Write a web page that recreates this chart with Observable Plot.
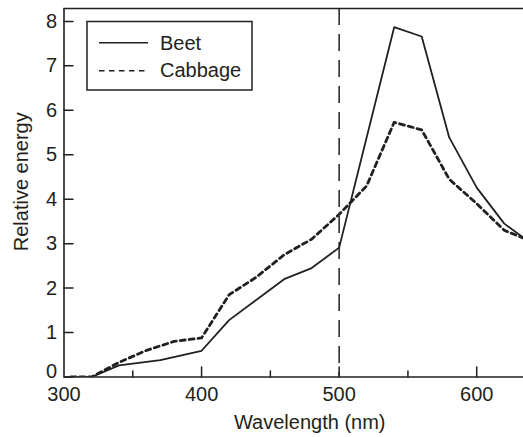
<!DOCTYPE html>
<html>
<head>
<meta charset="utf-8">
<script src="https://cdn.jsdelivr.net/npm/d3@7"></script>
<script src="https://cdn.jsdelivr.net/npm/@observablehq/plot@0.6"></script>
<style>
  body { margin: 0; background: #fff; }
  svg { display: block; }
</style>
</head>
<body>
<div id="chart"></div>
<script>
// Spectral energy of light reflected by two vegetables
const beetWavelength = [305, 320, 340, 370, 400, 420, 460, 480, 500, 540, 560, 580, 600, 620, 640];
const beetEnergy     = [0, 0, 0.26, 0.38, 0.59, 1.28, 2.2, 2.45, 2.91, 7.87, 7.66, 5.39, 4.26, 3.45, 3.0];

const cabbageWavelength = [305, 320, 340, 360, 380, 400, 420, 440, 460, 480, 500, 520, 540, 560, 580, 600, 620, 640];
const cabbageEnergy     = [0, 0, 0.33, 0.6, 0.8, 0.88, 1.85, 2.25, 2.75, 3.1, 3.66, 4.3, 5.73, 5.56, 4.45, 3.9, 3.3, 3.05];

const seriesNames = ["Beet", "Cabbage"];
const xTicks = [300, 400, 500, 600];
const xMinorTicks = [350, 450, 550];
const yTicks = [0, 1, 2, 3, 4, 5, 6, 7, 8];
const dividerWavelength = 500;

const xDomain = [300, 634];
const yDomain = [0, 8.29];
const ink = "#231f20";
const font = "'Liberation Sans', Arial, sans-serif";

const beet = beetWavelength.map((w, i) => ({w, e: beetEnergy[i]}));
const cabbage = cabbageWavelength.map((w, i) => ({w, e: cabbageEnergy[i]}));

// inward-pointing tick: a plain stroke drawn "up" from its anchor
const tickShape = {draw(ctx, l) { ctx.moveTo(0, 0); ctx.lineTo(0, -l); }};

const svg = Plot.plot({
  width: 523,
  height: 437,
  marginLeft: 63.5,
  marginRight: 0,
  marginTop: 8,
  marginBottom: 60.5,
  style: {fontFamily: font, fontSize: "20px", color: ink, background: "#fff"},
  x: {domain: xDomain},
  y: {domain: yDomain},
  marks: [
    // frame lines: left, bottom, top
    Plot.ruleX([xDomain[0]], {stroke: ink, strokeWidth: 1.6}),
    Plot.ruleY([yDomain[0]], {stroke: ink, strokeWidth: 1.6}),
    Plot.ruleY([yDomain[1]], {stroke: ink, strokeWidth: 1.6}),
    // ticks pointing into the plot
    Plot.vector(xTicks.filter(d => d > xDomain[0]), {x: d => d, y: yDomain[0], length: 10, anchor: "start", shape: tickShape, stroke: ink, strokeWidth: 1.5}),
    Plot.vector(xMinorTicks, {x: d => d, y: yDomain[0], length: 6, anchor: "start", shape: tickShape, stroke: ink, strokeWidth: 1.5}),
    Plot.vector(yTicks, {x: xDomain[0], y: d => d, length: 9, rotate: 90, anchor: "start", shape: tickShape, stroke: ink, strokeWidth: 1.5}),
    Plot.axisX({ticks: xTicks, tickSize: 0, tickPadding: 10, label: null, fontSize: 20, fill: ink}),
    Plot.axisY({ticks: yTicks.filter(d => d !== 0), tickSize: 0, tickPadding: 7, label: null, fontSize: 20, fill: ink}),
    // the zero label sits just above the corner
    Plot.axisY({ticks: [0], tickSize: 0, tickPadding: 7, dy: -5, label: null, fontSize: 20, fill: ink}),
    // axis titles
    Plot.text(["Wavelength (nm)"], {frameAnchor: "bottom", dx: 16, dy: 52, lineAnchor: "bottom", fontSize: 20, fill: ink}),
    Plot.text(["Relative energy"], {frameAnchor: "left", textAnchor: "middle", dx: -50, dy: -11, rotate: -90, lineAnchor: "top", fontSize: 20, fill: ink}),
    // divider at 500 nm
    Plot.ruleX([dividerWavelength], {y1: yDomain[1], y2: yDomain[0], stroke: ink, strokeWidth: 1.5, strokeDasharray: "17,9"}),
    // spectra
    Plot.line(cabbage, {x: "w", y: "e", stroke: ink, strokeWidth: 2.8, strokeDasharray: "5,4", clip: true}),
    Plot.line(beet, {x: "w", y: "e", stroke: ink, strokeWidth: 1.8, clip: true})
  ]
});

// legend box in the upper-left corner of the plot
const legend = d3.select(svg).append("g").attr("class", "legend");
legend.append("rect")
  .attr("x", 87).attr("y", 21.5).attr("width", 165).attr("height", 68.5)
  .attr("fill", "#fff").attr("stroke", ink).attr("stroke-width", 1.5);
const rows = [
  {name: seriesNames[0], lineY: 42.7, textY: 49.5, dash: null, width: 1.5},
  {name: seriesNames[1], lineY: 70.7, textY: 76.5, dash: "5.5,4.5", width: 1.5}
];
rows.forEach(r => {
  const ln = legend.append("line")
    .attr("x1", 99).attr("x2", 148).attr("y1", r.lineY).attr("y2", r.lineY)
    .attr("stroke", ink).attr("stroke-width", r.width);
  if (r.dash) ln.attr("stroke-dasharray", r.dash);
  legend.append("text")
    .attr("x", 160).attr("y", r.textY)
    .attr("text-anchor", "start")
    .attr("fill", ink).attr("font-size", 20).attr("font-family", font)
    .text(r.name);
});

document.getElementById("chart").append(svg);
</script>
</body>
</html>
